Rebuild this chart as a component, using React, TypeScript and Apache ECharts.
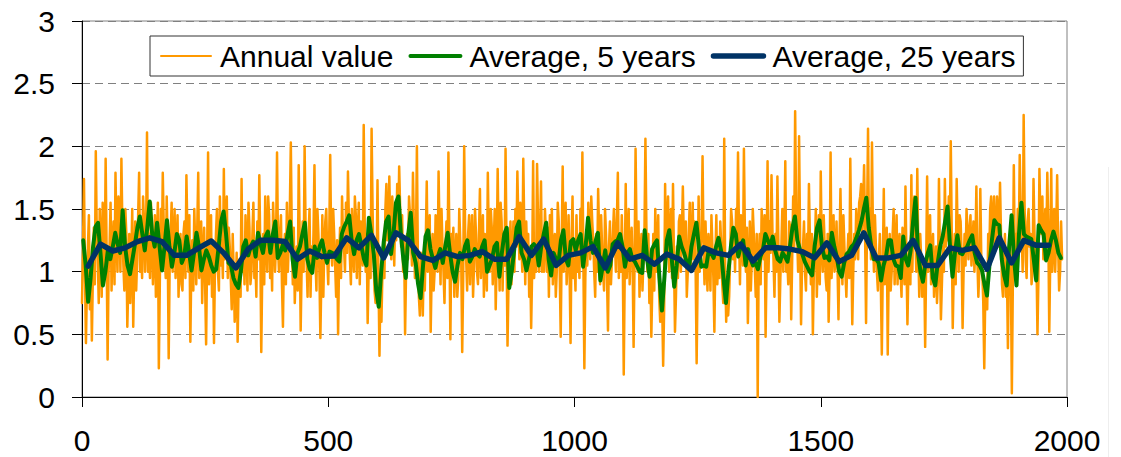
import React, { useEffect, useRef } from "react";
import * as echarts from "echarts";

// ---- data ----
const annualStartYear = 0;
const annualStepYears = 2;
const annualValues = [
  0.75, 1.2, 1.74, 1.0, 0.43, 0.9, 1.2, 1.45, 0.7, 1.1, 0.45, 0.95, 1.35, 0.9, 1.96, 1.3, 1.1, 0.75, 1.5, 1.25, 0.8, 1.55, 1.3, 0.95, 1.9, 1.15, 0.3, 1.0, 1.2, 1.55, 0.85, 1.2, 1.4, 0.9, 1.79, 1.3, 1.0, 1.6, 1.45, 1.0, 1.9, 1.35, 1.05, 0.85, 1.5, 1.3, 0.56, 0.9, 1.3, 0.75,
  1.1, 1.5, 0.56, 1.0, 1.4, 0.85, 1.1, 1.45, 1.79, 1.0, 1.25, 0.95, 1.6, 1.4, 1.0, 1.25, 2.11, 1.0, 1.3, 0.95, 1.55, 1.3, 0.9, 1.15, 1.45, 0.8, 1.25, 1.55, 0.23, 0.9, 1.5, 1.1, 1.79, 1.35, 1.15, 0.95, 1.6, 1.2, 0.31, 1.05, 1.3, 1.55, 1.0, 1.25, 1.5, 0.95, 1.2, 1.45, 0.8, 1.1,
  1.3, 0.9, 0.85, 1.3, 1.4, 0.95, 1.77, 1.3, 1.0, 1.45, 0.44, 1.05, 1.25, 0.85, 1.5, 1.2, 0.9, 1.35, 1.79, 0.95, 1.1, 1.4, 0.75, 1.15, 1.35, 0.9, 0.42, 1.1, 1.95, 0.9, 1.2, 1.45, 0.8, 1.2, 0.43, 1.05, 1.3, 1.5, 1.0, 0.85, 1.6, 1.05, 1.25, 0.95, 1.82, 1.1, 1.4, 1.6, 0.95, 1.35,
  1.2, 0.95, 0.7, 1.3, 1.0, 0.6, 0.8, 1.15, 0.44, 0.9, 1.1, 0.8, 1.74, 1.0, 1.2, 0.9, 1.45, 1.2, 0.85, 1.55, 1.35, 0.9, 1.0, 1.3, 1.55, 0.95, 1.1, 0.8, 1.4, 1.1, 1.77, 1.2, 0.36, 1.0, 1.3, 0.9, 1.6, 1.25, 1.0, 1.6, 1.45, 0.95, 1.2, 0.85, 1.55, 1.3, 1.0, 1.25, 1.95, 1.2,
  1.0, 1.3, 1.45, 0.9, 0.56, 1.15, 1.3, 0.9, 1.55, 1.0, 1.25, 1.5, 2.03, 1.3, 0.9, 1.35, 0.75, 1.0, 1.2, 0.85, 1.85, 1.3, 0.53, 1.05, 1.4, 1.0, 2.0, 1.35, 1.1, 0.8, 1.3, 1.5, 0.8, 1.2, 1.0, 1.3, 1.85, 1.1, 0.85, 1.5, 1.3, 1.0, 0.47, 0.95, 1.45, 0.8, 1.2, 1.4, 1.5, 1.1,
  0.9, 1.3, 1.93, 1.2, 1.05, 1.5, 1.3, 1.05, 0.8, 1.25, 0.5, 1.1, 1.35, 0.95, 1.6, 1.25, 1.2, 1.0, 1.55, 1.15, 1.8, 1.4, 1.1, 0.9, 1.5, 1.2, 1.0, 1.6, 1.45, 0.95, 1.3, 1.55, 0.9, 1.4, 1.2, 1.05, 2.17, 1.4, 1.0, 1.3, 0.59, 1.0, 1.3, 0.95, 2.14, 1.5, 1.1, 0.85, 0.75, 1.0,
  1.73, 0.95, 0.33, 0.9, 0.6, 1.0, 1.2, 0.95, 1.5, 1.7, 1.25, 1.35, 1.76, 1.3, 1.1, 1.6, 1.4, 1.05, 1.5, 1.25, 1.7, 1.3, 1.84, 1.5, 1.2, 1.45, 1.0, 1.25, 0.5, 1.0, 1.3, 1.1, 1.6, 1.45, 1.25, 1.05, 1.79, 1.3, 0.95, 1.2, 2.0, 1.1, 0.8, 0.65, 1.15, 0.9, 0.65, 1.1, 0.85, 1.25,
  1.72, 1.0, 1.2, 1.45, 0.52, 1.0, 1.3, 0.85, 1.0, 1.45, 1.35, 1.0, 1.8, 1.3, 0.9, 1.5, 1.2, 1.0, 0.75, 1.2, 1.4, 0.95, 1.95, 1.25, 0.46, 1.3, 1.0, 1.35, 0.8, 1.1, 1.3, 0.8, 0.95, 1.5, 1.25, 1.1, 0.36, 0.95, 2.0, 1.3, 1.1, 0.85, 1.3, 1.45, 0.9, 1.25, 1.45, 0.8, 1.05, 1.5,
  1.3, 1.0, 0.9, 1.3, 1.66, 0.95, 1.2, 1.45, 0.8, 1.3, 1.1, 0.85, 1.79, 1.25, 1.0, 1.5, 1.35, 0.9, 1.2, 1.5, 0.7, 1.1, 1.82, 1.2, 0.85, 1.55, 1.4, 0.85, 1.3, 1.05, 1.98, 1.2, 0.41, 0.9, 1.1, 1.4, 0.9, 1.15, 1.4, 1.0, 1.5, 1.2, 1.8, 1.4, 1.1, 1.55, 1.25, 1.0, 1.9, 1.35,
  0.9, 1.4, 1.1, 1.3, 0.8, 1.1, 0.55, 1.0, 1.88, 0.95, 1.2, 1.0, 1.86, 1.4, 1.0, 1.25, 1.72, 1.0, 1.3, 1.0, 1.5, 1.3, 1.0, 1.35, 0.8, 1.45, 1.2, 1.5, 0.9, 1.2, 1.3, 0.8, 1.0, 1.55, 1.4, 1.0, 0.48, 1.2, 1.84, 1.0, 1.3, 1.55, 0.9, 1.1, 1.45, 1.0, 0.43, 1.25, 1.6, 0.95,
  1.1, 0.85, 1.45, 1.0, 1.2, 0.95, 1.5, 1.2, 1.95, 1.1, 0.23, 0.95, 1.3, 1.05, 1.55, 1.3, 1.1, 1.6, 1.4, 1.25, 1.0, 0.8, 1.3, 1.0, 1.66, 1.3, 0.9, 1.45, 1.2, 1.0, 0.85, 1.5, 1.3, 0.95, 0.53, 1.2, 1.4, 0.9, 1.1, 1.3, 1.5, 1.25, 1.0, 1.4, 1.79, 0.95, 1.2, 1.0, 1.45, 1.1,
  0.18, 1.0, 1.7, 0.95, 1.2, 1.5, 0.9, 1.2, 1.35, 1.05, 0.4, 1.1, 1.98, 1.3, 1.0, 1.4, 0.8, 1.15, 1.3, 0.85, 1.1, 1.3, 2.06, 1.35, 1.0, 1.3, 0.75, 1.05, 0.48, 0.9, 1.3, 0.85, 1.5, 1.0, 1.2, 1.45, 0.8, 0.6, 0.9, 0.75, 0.25, 0.7, 1.7, 1.1, 1.4, 1.6, 1.0, 1.3, 1.5, 0.95,
  1.7, 1.1, 0.52, 0.8, 1.2, 0.95, 1.4, 1.45, 1.0, 1.3, 1.68, 1.25, 1.1, 1.4, 0.8, 1.0, 1.3, 1.55, 1.0, 1.2, 1.55, 1.1, 1.4, 1.0, 0.27, 0.95, 1.6, 1.0, 1.2, 1.3, 1.92, 1.2, 0.9, 1.4, 1.1, 0.85, 1.3, 1.15, 0.85, 1.45, 1.2, 0.95, 0.52, 1.1, 1.45, 0.9, 1.2, 0.95, 1.4, 1.2,
  0.9, 0.75, 2.06, 1.0, 0.6, 0.95, 0.65, 0.8, 1.1, 1.5, 1.4, 1.1, 1.3, 1.0, 1.5, 1.25, 1.95, 1.3, 0.9, 1.45, 1.3, 1.05, 1.98, 1.3, 1.0, 1.35, 0.59, 1.0, 1.4, 0.85, 1.1, 1.5, 1.3, 1.05, 0.8, 1.3, 0.0, 1.1, 1.3, 0.9, 1.5, 1.3, 1.1, 1.45, 0.48, 1.05, 1.88, 1.0, 1.4, 1.15,
  1.77, 1.3, 1.1, 0.8, 1.3, 1.0, 1.76, 1.2, 0.6, 0.95, 1.2, 1.5, 1.0, 1.25, 1.88, 1.0, 1.1, 0.9, 1.4, 1.35, 0.62, 1.1, 1.6, 1.2, 2.28, 1.5, 1.3, 1.0, 2.08, 1.3, 0.58, 1.05, 1.2, 1.4, 1.0, 0.85, 1.3, 1.0, 1.7, 1.25, 0.9, 1.3, 0.5, 1.0, 1.2, 1.5, 0.8, 1.1, 1.45, 0.9,
  1.8, 1.2, 1.0, 1.45, 1.2, 0.95, 0.85, 1.3, 0.6, 1.0, 1.95, 0.95, 1.2, 1.45, 1.0, 1.1, 1.4, 1.05, 0.62, 1.2, 1.66, 1.15, 0.9, 1.45, 1.2, 1.0, 0.8, 1.1, 1.3, 0.95, 1.9, 1.2, 0.58, 1.0, 1.3, 1.1, 1.5, 1.35, 1.1, 1.55, 1.6, 1.7, 1.3, 1.5, 1.85, 1.3, 0.59, 1.4, 2.14, 1.25,
  1.5, 1.1, 2.03, 1.3, 1.0, 1.45, 1.2, 1.0, 0.85, 1.1, 1.3, 0.9, 0.34, 1.05, 1.66, 0.9, 1.1, 1.35, 0.34, 1.0, 1.3, 0.85, 1.0, 1.3, 1.5, 0.9, 1.2, 1.45, 0.9, 1.2, 1.3, 1.0, 0.8, 1.35, 1.1, 0.9, 1.68, 1.1, 0.58, 1.0, 1.2, 0.9, 1.77, 1.0, 1.5, 1.6, 1.3, 1.0, 1.82, 1.2,
  0.8, 1.3, 1.1, 0.8, 0.85, 1.1, 0.4, 1.05, 1.76, 1.0, 1.2, 1.45, 0.9, 1.15, 1.3, 0.8, 1.0, 1.2, 0.75, 0.95, 1.74, 1.1, 0.62, 0.9, 1.2, 1.0, 1.74, 1.2, 1.4, 1.25, 1.6, 1.3, 2.04, 1.3, 0.55, 1.0, 1.3, 0.9, 1.74, 1.3, 1.0, 1.45, 1.4, 1.15, 0.55, 1.0, 1.3, 1.05, 1.5, 1.3,
  1.1, 1.35, 1.45, 1.05, 1.2, 1.4, 1.0, 1.2, 1.68, 1.1, 0.8, 1.0, 1.66, 1.1, 1.0, 0.75, 0.23, 0.8, 0.9, 0.7, 1.3, 1.1, 1.5, 1.6, 1.2, 1.45, 1.6, 1.2, 1.3, 1.6, 1.45, 1.2, 1.71, 1.3, 0.9, 0.8, 1.1, 1.3, 0.8, 1.0, 0.39, 1.05, 1.3, 1.0, 0.03, 0.9, 1.85, 1.1, 1.3, 1.0,
  1.5, 1.2, 1.93, 1.45, 1.3, 1.0, 2.25, 1.5, 1.1, 0.95, 1.4, 1.5, 1.2, 1.3, 0.9, 1.0, 1.74, 1.3, 1.0, 1.1, 0.5, 0.95, 1.82, 1.4, 1.3, 1.6, 1.1, 1.3, 1.5, 1.2, 1.79, 1.35, 0.52, 1.1, 1.82, 1.0, 1.2, 1.5, 1.0, 1.3, 1.77, 1.2, 0.85, 1.0, 1.4, 1.1,
];

const avg5StartYear = 2.5;
const avg5StepYears = 5;
const avg5Values = [
  1.25, 1.05, 0.76, 0.95, 1.2, 1.36, 1.39, 1.15, 0.89, 1.0,
  1.17, 1.1, 1.2, 1.31, 1.22, 1.15, 1.49, 1.2, 1.05, 0.98,
  1.1, 1.22, 1.35, 1.44, 1.3, 1.17, 1.35, 1.56, 1.3, 1.2,
  1.39, 1.2, 1.01, 1.2, 1.41, 1.2, 1.04, 1.15, 1.3, 1.25,
  1.07, 1.12, 1.28, 1.15, 1.01, 1.15, 1.31, 1.2, 1.01, 1.1,
  1.17, 1.12, 1.05, 1.0, 1.02, 1.2, 1.4, 1.48, 1.3, 1.07,
  1.05, 0.95, 0.9, 0.87, 1.0, 1.2, 1.25,
  1.13, 1.2, 1.24, 1.12, 1.31, 1.22, 1.15, 1.28, 1.32, 1.15,
  1.3, 1.4, 1.11, 1.15, 1.21, 1.17, 1.3, 1.4, 1.1, 0.96,
  1.15, 1.2, 1.3, 1.39, 1.1, 1.02, 0.99, 1.2, 1.11, 1.2,
  1.25, 1.15, 1.07, 1.16, 1.15, 1.14, 1.1, 1.08, 1.3, 1.36,
  1.4, 1.45, 1.25, 1.14, 1.25, 1.3, 1.2, 1.1, 1.05, 1.43,
  1.3, 1.14, 0.85, 0.72, 1.0, 1.23, 1.4, 1.44, 1.14, 1.3,
  1.55, 1.6, 1.3, 1.1, 0.95, 1.3, 1.47,
  1.15, 1.07, 0.9, 0.79, 1.05, 1.28, 1.33, 1.18, 1.1, 1.03,
  1.12, 1.18, 1.07, 1.2, 1.31, 1.14, 1.0, 0.92, 1.05, 1.15,
  1.1, 1.2, 1.25, 1.08, 1.12, 1.18, 1.14, 1.12, 1.2, 1.25,
  1.0, 1.05, 1.1, 1.2, 1.23, 0.96, 1.15, 1.3, 1.35, 0.87,
  1.0, 1.17, 1.35, 1.4, 1.15, 1.1, 1.01, 1.1, 1.2, 1.22,
  1.19, 1.05, 1.2, 1.3, 1.39, 1.1, 0.97, 1.15, 1.1, 1.07,
  1.25, 1.33, 1.1, 1.05, 1.24, 1.26,
  1.17, 1.25, 1.3, 1.04, 1.2, 1.43, 1.25, 1.15, 1.24, 1.31,
  0.93, 1.05, 1.17, 1.0, 1.05, 1.22, 1.24, 1.25, 1.3, 1.2,
  1.04, 1.15, 1.18, 1.1, 1.08, 1.04, 1.0, 0.99, 1.33, 1.1,
  0.96, 1.18, 1.22, 1.25, 0.95, 0.69, 0.95, 1.25, 1.33, 1.1,
  0.88, 1.05, 1.28, 1.2, 1.15, 1.08, 1.03, 1.2, 1.3, 1.39,
  1.2, 1.04, 1.05, 1.04, 1.17, 1.15, 1.11, 1.2, 1.27, 1.17,
  0.95, 0.75, 1.0, 1.2, 1.35, 1.3, 1.12,
  1.2, 1.25, 1.05, 1.18, 1.1, 1.05, 1.07, 1.02, 1.12, 1.17,
  1.3, 1.25, 1.2, 1.28, 1.17, 1.1, 1.08, 1.15, 1.12, 1.08,
  1.2, 1.35, 1.44, 1.25, 1.18, 1.14, 1.08, 1.04, 1.0, 0.97,
  1.2, 1.35, 1.41, 1.2, 1.11, 1.12, 1.09, 1.31, 1.2, 1.12,
  1.0, 0.96, 1.07, 1.14, 1.16, 1.2, 1.22, 1.27, 1.33, 1.4,
  1.5, 1.59, 1.35, 1.2, 1.1, 1.1, 1.07, 0.93, 1.05, 1.12,
  1.25, 1.25, 1.1, 1.05, 1.04, 0.95,
  1.28, 1.1, 1.05, 1.17, 1.4, 1.59, 1.15, 1.0, 0.92, 1.07,
  1.15, 1.21, 0.95, 0.89, 1.07, 1.2, 1.28, 1.4, 1.52, 1.2,
  0.96, 1.15, 1.29, 1.15, 1.14, 1.18, 1.2, 1.25, 1.29, 1.15,
  1.07, 1.05, 1.01, 0.9, 0.81, 1.05, 1.25, 1.41, 1.38, 1.37,
  1.1, 0.97, 0.89, 1.2, 1.45, 1.1, 0.89, 1.3, 1.55, 1.3,
  1.28, 1.27, 1.26, 1.1, 0.93, 1.37, 1.33, 1.3, 1.09, 1.15,
  1.25, 1.32, 1.25, 1.15, 1.11,
];

const avg25StartYear = 12.5;
const avg25StepYears = 25;
const avg25Values = [
  1.045, 1.22, 1.165, 1.19, 1.24, 1.27, 1.24, 1.13, 1.13, 1.19, 1.245, 1.15, 1.03, 1.18, 1.25, 1.25, 1.24, 1.1, 1.165, 1.12, 1.125, 1.27, 1.19, 1.29,
  1.11, 1.31, 1.25, 1.12, 1.09, 1.15, 1.12, 1.13, 1.16, 1.1, 1.1, 1.28, 1.13, 1.26, 1.05, 1.13, 1.15, 1.2, 1.03, 1.23, 1.1, 1.13, 1.06, 1.14, 1.1, 1.01, 1.19, 1.15, 1.13, 1.22, 1.085,
  1.19, 1.19, 1.18, 1.16, 1.11, 1.23, 1.08, 1.13, 1.31, 1.11, 1.11, 1.13, 1.25, 1.05, 1.05, 1.19, 1.17, 1.19, 1.02, 1.27, 1.07, 1.25, 1.21, 1.21,
];

const seriesNames = ["Annual value", "Average, 5 years", "Average, 25 years"];
const seriesColors = ["#FF9900", "#008000", "#003366"];
const seriesWidths = [2.5, 4, 5.5];
const legendWidths = [2, 4, 5.5];
const xMin = 0;
const xMax = 2000;
const xInterval = 500;
const yMin = 0;
const yMax = 3;
const yInterval = 0.5;

const FONT = "'Liberation Sans', Arial, sans-serif";

function toPairs(start: number, step: number, values: number[]) {
  return values.map((v, i) => [start + i * step, v]);
}

export default function App() {
  const ref = useRef<HTMLDivElement>(null);

  useEffect(() => {
    if (!ref.current) return;
    const chart = echarts.init(ref.current, undefined, { renderer: "svg" });
    const datasets = [
      toPairs(annualStartYear, annualStepYears, annualValues),
      toPairs(avg5StartYear, avg5StepYears, avg5Values),
      toPairs(avg25StartYear, avg25StepYears, avg25Values),
    ];
    chart.setOption({
      animation: false,
      backgroundColor: "#ffffff",
      grid: {
        left: 82,
        right: 54,
        top: 21,
        bottom: 60,
        show: true,
        borderColor: "#808080",
        borderWidth: 1,
        backgroundColor: "transparent",
      },
      legend: {
        data: seriesNames.map((name, i) => ({
          name,
          itemStyle: { opacity: 0 },
          lineStyle: { color: seriesColors[i], width: legendWidths[i], cap: "round" },
        })),
        left: 150,
        top: 36,
        padding: [5, 8, 5, 10],
        itemGap: 15,
        itemWidth: 50,
        itemHeight: 14,
        borderColor: "#333333",
        borderWidth: 1,
        backgroundColor: "#ffffff",
        textStyle: {
          fontSize: 30,
          color: "#000000",
          fontFamily: FONT,
          padding: [0, 0, 0, 4],
          lineHeight: 30,
        },
      },
      graphic: [
        {
          type: "line",
          shape: { x1: 1108.5, y1: 167, x2: 1108.5, y2: 457 },
          style: { stroke: "#eeeeee", lineWidth: 1 },
          silent: true,
        },
      ],
      xAxis: {
        type: "value",
        min: xMin,
        max: xMax,
        interval: xInterval,
        axisLine: { show: true, lineStyle: { color: "#000000", width: 1 } },
        axisTick: { show: true, inside: false, length: 10, lineStyle: { color: "#000000" } },
        axisLabel: {
          fontSize: 30,
          color: "#000000",
          fontFamily: FONT,
          margin: 28,
          formatter: (v: number) => String(v),
        },
        splitLine: { show: false },
      },
      yAxis: {
        type: "value",
        min: yMin,
        max: yMax,
        interval: yInterval,
        axisLine: { show: true, lineStyle: { color: "#000000", width: 1 } },
        axisTick: { show: true, inside: false, length: 10, lineStyle: { color: "#000000" } },
        axisLabel: { fontSize: 30, color: "#000000", fontFamily: FONT, margin: 27 },
        splitLine: {
          show: true,
          lineStyle: { color: "#808080", width: 1, type: [8, 5] },
        },
      },
      series: seriesNames.map((name, i) => ({
        name,
        type: "line",
        data: datasets[i],
        symbol: "none",
        showSymbol: false,
        lineStyle: { color: seriesColors[i], width: seriesWidths[i], join: "round", cap: "round" },
        itemStyle: { color: seriesColors[i] },
        z: i + 1,
        silent: true,
      })),
    });
    return () => chart.dispose();
  }, []);

  return (
    <div
      ref={ref}
      style={{ position: "fixed", left: 0, top: 0, width: 1121, height: 457, background: "#ffffff" }}
    />
  );
}
